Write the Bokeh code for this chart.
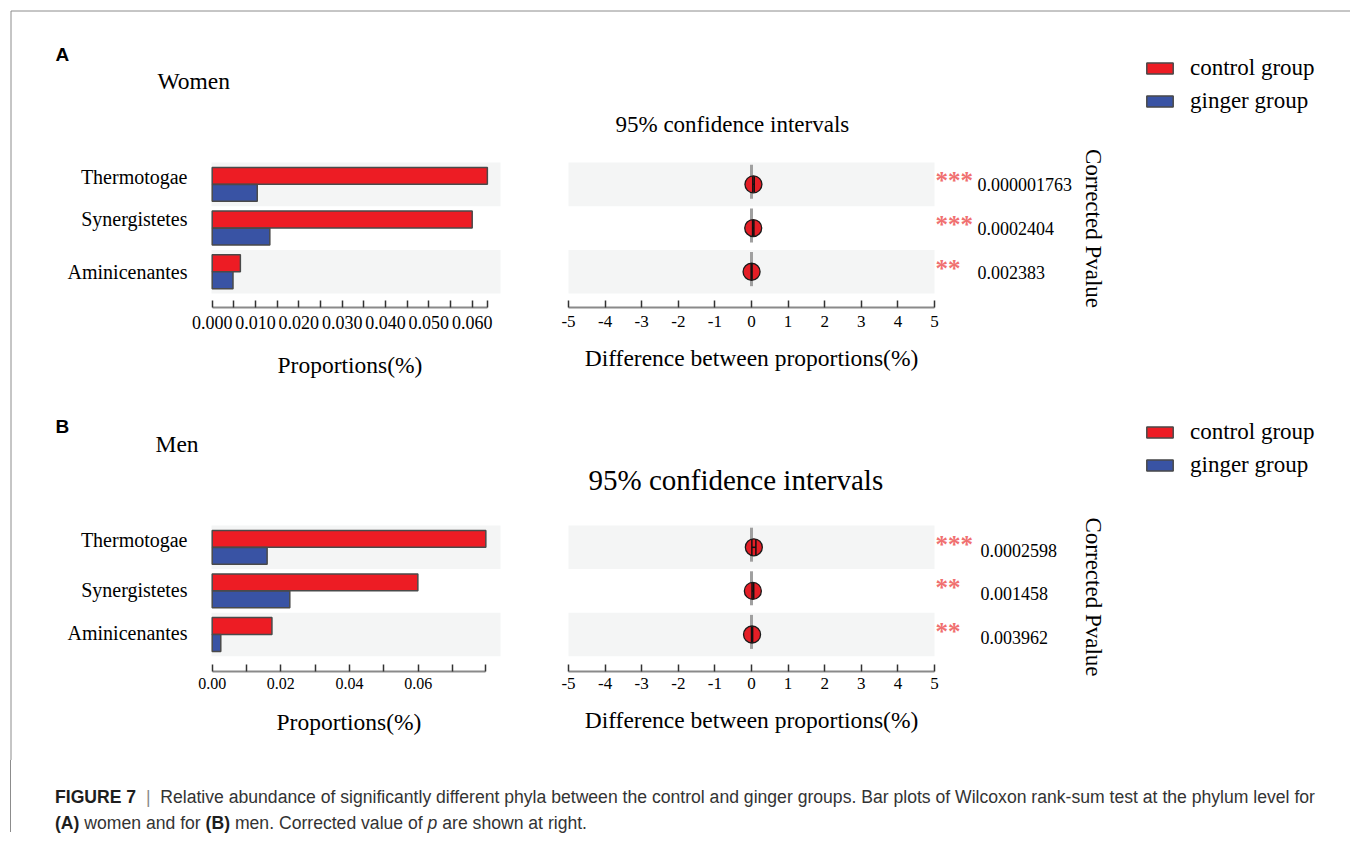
import math
from bokeh.plotting import figure
from bokeh.models import (Range1d, LinearAxis, FixedTicker, PrintfTickFormatter,
                          ColumnDataSource, Legend, LegendItem, Whisker, TeeHead, Div)
from bokeh.layouts import column
from bokeh.core.properties import value
from bokeh.embed import file_html
from bokeh.resources import INLINE

# ------------------------------------------------------------------ data
categories = ["Thermotogae", "Synergistetes", "Aminicenantes"]
group_labels = ["control group", "ginger group"]

women_control = [0.0635, 0.0600, 0.0065]
women_ginger = [0.0104, 0.0133, 0.0048]
women_diff = [0.053, 0.047, 0.002]
women_ci_low = [0.035, 0.030, -0.010]
women_ci_high = [0.075, 0.065, 0.015]
women_pvalues = ["0.000001763", "0.0002404", "0.002383"]
women_stars = ["***", "***", "**"]

men_control = [0.0797, 0.0599, 0.0174]
men_ginger = [0.0160, 0.0226, 0.0025]
men_diff = [0.064, 0.037, 0.015]
men_ci_low = [0.010, 0.015, 0.000]
men_ci_high = [0.120, 0.060, 0.030]
men_pvalues = ["0.0002598", "0.001458", "0.003962"]
men_stars = ["***", "**", "**"]

women_prop_ticks = [0.0, 0.01, 0.02, 0.03, 0.04, 0.05, 0.06]
women_prop_minor = [0.005, 0.015, 0.025, 0.035, 0.045, 0.055]
men_prop_ticks = [0.0, 0.02, 0.04, 0.06]
men_prop_minor = [0.01, 0.03, 0.05, 0.07]
diff_ticks = [-5, -4, -3, -2, -1, 0, 1, 2, 3, 4, 5]

# ------------------------------------------------------------------ layout / style
W, H = 1350, 760          # canvas size (page pixels)
SERIF = "Liberation Serif"
SANS = "Liberation Sans"
RED, BLUE = "#ed1c24", "#3953a4"
BAND = "#f4f5f5"
BAR_LINE = "#4a4a4a"

CI_LEFT_PX, CI_RIGHT_PX = 568, 934
BAR_BAND = (211, 500)

panels = [
    dict(key="A", title="Women", letter_y=54, title_x=157, title_y=80,
         ci_title_x=615, ci_title_y=124, ci_title_size="23px",
         zero_px=211.7, ref_val=0.06, ref_px=471.7, rows_top=162, row_h=43.7,
         axis_y=306.7, tick_fmt="%.3f", tick_size="18px", tick_standoff=9,
         ticks=women_prop_ticks, minor=women_prop_minor,
         control=women_control, ginger=women_ginger, diff=women_diff,
         lo=women_ci_low, hi=women_ci_high, pvals=women_pvalues, stars=women_stars,
         label_off=[-7.5, -9.5, 0.5], pv_x=977, pv_off=0.5, star_off=-3.5,
         cp_center=228, legend_top=55.3, bar_label_standoff=19, ci_label_standoff=14),
    dict(key="B", title="Men", letter_y=426, title_x=155, title_y=443.5,
         ci_title_x=588, ci_title_y=479, ci_title_size="29px",
         zero_px=211.7, ref_val=0.06, ref_px=417.7, rows_top=525, row_h=43.6,
         axis_y=670.5, tick_fmt="%.2f", tick_size="16px", tick_standoff=7,
         ticks=men_prop_ticks, minor=men_prop_minor,
         control=men_control, ginger=men_ginger, diff=men_diff,
         lo=men_ci_low, hi=men_ci_high, pvals=men_pvalues, stars=men_stars,
         label_off=[-7.8, -1.4, -2.0], pv_x=980, pv_off=3.0, star_off=-3.0,
         cp_center=596.5, legend_top=419, bar_label_standoff=16, ci_label_standoff=14),
]


def ext_range(d0, d1, p0, p1, f_start, f_end):
    """Range whose value d0 sits at pixel p0 and d1 at pixel p1, over a frame f_start..f_end."""
    k = (d1 - d0) / (p1 - p0)
    return Range1d(start=d0 + (f_start - p0) * k, end=d0 + (f_end - p0) * k)


p = figure(width=W, height=H, title=None,
           x_range=Range1d(0, W), y_range=Range1d(H, 0),
           output_backend="svg", toolbar_location=None, tools="",
           x_axis_location=None, y_axis_location=None, min_border=0)
p.grid.visible = False
p.outline_line_color = None
p.background_fill_color = "white"
p.border_fill_color = "white"


def txt(x, y, s, size, font=SERIF, style="normal", color="black", align="left",
        baseline="alphabetic", angle=0.0, yr=None):
    kw = {}
    if yr is not None:
        kw["y_range_name"] = yr
    return p.text(x=x, y=y, text=s, text_font=value(font), text_font_size=value(size),
                  text_font_style=style, text_color=color, text_align=align,
                  text_baseline=baseline, angle=angle, **kw)


# figure box border (top and left)
p.segment(x0=[10.5, 10.5], y0=[10.5, 10.5], x1=[W, 10.5], y1=[10.5, H],
          line_color="#8c8c8c", line_width=1)

for pan in panels:
    k = pan["key"]
    n = len(categories)
    idx = list(range(n))
    rh = pan["row_h"]
    bars_r, ci_r, rows_r = "bars" + k, "ci" + k, "rows" + k
    p.extra_x_ranges[bars_r] = ext_range(0, pan["ref_val"], pan["zero_px"], pan["ref_px"], 0, W)
    p.extra_x_ranges[ci_r] = ext_range(-5, 5, CI_LEFT_PX, CI_RIGHT_PX, 0, W)
    c0 = pan["rows_top"] + rh / 2
    p.extra_y_ranges[rows_r] = ext_range(0, 1, c0, c0 + rh, H, 0)

    # background stripes
    band_rows = [i for i in idx if i % 2 == 0]
    p.quad(left=[BAR_BAND[0]] * len(band_rows), right=[BAR_BAND[1]] * len(band_rows),
           bottom=[i + 0.5 for i in band_rows], top=[i - 0.5 for i in band_rows],
           fill_color=BAND, line_color=None, y_range_name=rows_r)
    p.quad(left=[diff_ticks[0]] * len(band_rows), right=[diff_ticks[-1]] * len(band_rows),
           bottom=[i + 0.5 for i in band_rows], top=[i - 0.5 for i in band_rows],
           fill_color=BAND, line_color=None, x_range_name=ci_r, y_range_name=rows_r)

    # bars
    src = ColumnDataSource(dict(
        cat=categories, row=idx, control=pan["control"], ginger=pan["ginger"],
        y_c=[i - 0.195 for i in idx], y_g=[i + 0.195 for i in idx],
        diff=pan["diff"], lo=pan["lo"], hi=pan["hi"]))
    rc = p.hbar(y="y_c", left=0, right="control", height=0.385, source=src,
                fill_color=RED, line_color=BAR_LINE, line_width=1.5,
                x_range_name=bars_r, y_range_name=rows_r)
    rg = p.hbar(y="y_g", left=0, right="ginger", height=0.385, source=src,
                fill_color=BLUE, line_color=BAR_LINE, line_width=1.5,
                x_range_name=bars_r, y_range_name=rows_r)

    # zero reference line, CI points and whiskers
    p.segment(x0=[0] * n, x1=[0] * n, y0=[i - 0.45 for i in idx], y1=[i + 0.33 for i in idx],
              line_color="#a0a0a0", line_width=3, x_range_name=ci_r, y_range_name=rows_r)
    p.scatter(x="diff", y="row", source=src, size=17, fill_color="#e41e26",
              line_color="#1a1a1a", line_width=1.3, x_range_name=ci_r, y_range_name=rows_r)
    wh = Whisker(source=src, base="row", lower="lo", upper="hi", dimension="width",
                 line_color="#111111", line_width=1.5, level="overlay",
                 upper_head=TeeHead(size=16, line_color="#111111", line_width=1.5),
                 lower_head=TeeHead(size=16, line_color="#111111", line_width=1.5),
                 x_range_name=ci_r, y_range_name=rows_r)
    p.add_layout(wh)

    # category labels
    txt([187] * n, [i + pan["label_off"][i] / rh for i in idx], categories, "20px",
        align="right", yr=rows_r)
    # significance stars and p values
    txt([935] * n, [i + pan["star_off"] / rh for i in idx], pan["stars"], "25px",
        style="bold", color="#f07070", yr=rows_r)
    txt([pan["pv_x"]] * n, [i + pan["pv_off"] / rh for i in idx], pan["pvals"], "18px", yr=rows_r)

    # titles
    txt([55], [pan["letter_y"]], [k], "19px", font=SANS, style="bold")
    txt([pan["title_x"]], [pan["title_y"]], [pan["title"]], "23.5px")
    txt([pan["ci_title_x"]], [pan["ci_title_y"]], ["95% confidence intervals"], pan["ci_title_size"])
    txt([1093], [pan["cp_center"]], ["Corrected Pvalue"], "23px", align="center",
        baseline="middle", angle=-math.pi / 2)

    # axes
    bar_ax = LinearAxis(x_range_name=bars_r, fixed_location=pan["axis_y"],
                        bounds=(0, max(pan["control"])),
                        ticker=FixedTicker(ticks=pan["ticks"],
                                           minor_ticks=pan["minor"] + [max(pan["control"])]),
                        formatter=PrintfTickFormatter(format=pan["tick_fmt"]),
                        axis_label="Proportions(%)")
    ci_ax = LinearAxis(x_range_name=ci_r, fixed_location=pan["axis_y"],
                       bounds=(diff_ticks[0], diff_ticks[-1]),
                       ticker=FixedTicker(ticks=diff_ticks),
                       formatter=PrintfTickFormatter(format="%d"),
                       axis_label="Difference between proportions(%)")
    for ax, tsize, lstand in ((bar_ax, pan["tick_size"], pan["bar_label_standoff"]),
                              (ci_ax, "17px", pan["ci_label_standoff"])):
        ax.axis_line_color = "#8a8a8a"
        ax.axis_line_width = 2
        ax.major_tick_line_color = "#333333"
        ax.major_tick_line_width = 1.5
        ax.major_tick_in = 7
        ax.major_tick_out = 0
        ax.minor_tick_line_color = "#333333"
        ax.minor_tick_line_width = 1.5
        ax.minor_tick_in = 7
        ax.minor_tick_out = 0
        ax.major_label_text_font = SERIF
        ax.major_label_text_font_size = tsize
        ax.major_label_text_color = "black"
        ax.major_label_standoff = pan["tick_standoff"]
        ax.axis_label_text_font = SERIF
        ax.axis_label_text_font_size = "23.5px"
        ax.axis_label_text_font_style = "normal"
        ax.axis_label_text_color = "black"
        ax.axis_label_standoff = lstand
        p.add_layout(ax, "below")

    # legend
    leg_bottom = pan["legend_top"] + 26 * 2 + 7
    leg = Legend(items=[LegendItem(label=value(group_labels[0]), renderers=[rc]),
                        LegendItem(label=value(group_labels[1]), renderers=[rg])],
                 location=(1143, H - leg_bottom), orientation="vertical",
                 glyph_width=33, glyph_height=14, label_standoff=14, label_height=26,
                 spacing=7, padding=0, margin=0, border_line_color=None,
                 background_fill_alpha=0, label_text_font=SERIF,
                 label_text_font_size="23px", label_text_color="black")
    p.add_layout(leg)

caption_html = (
    '<div style="font-family:\'Liberation Sans\',Arial,sans-serif;font-size:17.6px;color:#333333;'
    'padding:28px 0 0 44px;white-space:nowrap;">'
    '<div style="line-height:18px;"><b style="color:#1e1e1e;">FIGURE 7</b>&nbsp; '
    '<span style="color:#8a8a8a;">|</span>&nbsp; Relative abundance of significantly different phyla '
    'between the control and ginger groups. Bar plots of Wilcoxon rank-sum test at the phylum level for</div>'
    '<div style="line-height:18px;margin-top:8px;"><b style="color:#1e1e1e;">(A)</b> women and for '
    '<b style="color:#1e1e1e;">(B)</b> men. Corrected value of <i>p</i> are shown at right.</div>'
    '</div>')
caption = Div(text=caption_html, width=W - 10, height=72, margin=(0, 0, 0, 10),
              styles={"border-left": "1px solid #8c8c8c"})

layout = column(p, caption)
open("out.html", "w").write(file_html(layout, INLINE, "Figure 7"))
